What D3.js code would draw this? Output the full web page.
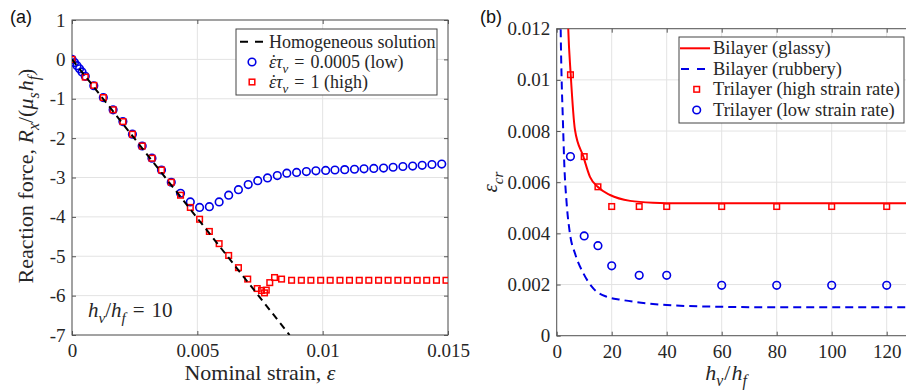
<!DOCTYPE html>
<html><head><meta charset="utf-8">
<script src="https://cdn.jsdelivr.net/npm/d3@7"></script>
<style>
body{margin:0;background:#fff}
svg{display:block}
text{font-family:"Liberation Serif","Times New Roman",serif;fill:#262626}
</style>
</head><body>
<svg id="c" width="906" height="390"></svg>
<script>
// ---------- Panel (a) data ----------
const homX = [0, 0.00868];
const homY = [0, -7.0];

const lowX = [0, 0.0001, 0.0002, 0.0003, 0.0004, 0.00053, 0.00087, 0.00125, 0.00164, 0.00203,
  0.00241, 0.0028, 0.00319, 0.00357, 0.00396, 0.00433, 0.00472, 0.00509, 0.00548, 0.00587,
  0.00625, 0.00664, 0.00703, 0.00741, 0.0078, 0.00819, 0.00857, 0.00896, 0.00935, 0.00973,
  0.01012, 0.01049, 0.01088, 0.01127, 0.01165, 0.01204, 0.01243, 0.01281, 0.0132, 0.01359,
  0.01397, 0.01436, 0.01475];
const lowY = [0, -0.08, -0.16, -0.24, -0.32, -0.43, -0.67, -0.97, -1.28, -1.58,
  -1.90, -2.20, -2.51, -2.81, -3.12, -3.40, -3.62, -3.76, -3.74, -3.62,
  -3.45, -3.31, -3.18, -3.08, -3.01, -2.95, -2.89, -2.87, -2.85, -2.83,
  -2.82, -2.81, -2.80, -2.79, -2.78, -2.77, -2.76, -2.74, -2.72, -2.71,
  -2.69, -2.67, -2.66];

const highX = [0, 0.00053, 0.00087, 0.00125, 0.00164, 0.00203, 0.00241, 0.0028, 0.00319, 0.00357,
  0.00396, 0.00433, 0.00472, 0.00509, 0.00548, 0.00587, 0.00625, 0.00664, 0.00701, 0.00739,
  0.00756, 0.00768, 0.00775, 0.00789, 0.00808, 0.00836, 0.00876, 0.00915, 0.00953, 0.00992,
  0.0103, 0.01069, 0.01107, 0.01146, 0.01184, 0.01223, 0.01261, 0.013, 0.01338, 0.01377,
  0.01415, 0.01454, 0.01492];
const highY = [0, -0.45, -0.66, -0.97, -1.28, -1.58, -1.90, -2.20, -2.51, -2.81,
  -3.12, -3.45, -3.76, -4.06, -4.37, -4.68, -4.98, -5.29, -5.58, -5.82,
  -5.87, -5.93, -5.86, -5.67, -5.54, -5.58, -5.61, -5.61, -5.61, -5.61,
  -5.61, -5.61, -5.61, -5.61, -5.61, -5.61, -5.61, -5.61, -5.61, -5.61,
  -5.61, -5.61, -5.61];

const aXTicks = [0, 0.005, 0.01, 0.015];
const aXTickLabels = ["0", "0.005", "0.01", "0.015"];
const aYTicks = [1, 0, -1, -2, -3, -4, -5, -6, -7];
const aYTickLabels = ["1", "0", "-1", "-2", "-3", "-4", "-5", "-6", "-7"];

// ---------- Panel (b) data ----------
const glassyX = [3.8, 4.2, 5.1, 6.65, 9.7, 12.1, 14.9, 19.4, 26.7, 35, 45, 60, 80, 100, 130];
const glassyY = [0.0135, 0.012, 0.0102, 0.00804, 0.0070, 0.00621, 0.00582, 0.0055, 0.00527, 0.0052, 0.00518, 0.00518, 0.00518, 0.00518, 0.00518];

const rubberyX = [1.3, 1.45, 1.8, 2.2, 2.8, 3.6, 4.8, 6.7, 9.7, 13.3, 18.2, 23.6, 30, 40, 60, 80, 130];
const rubberyY = [0.0135, 0.012, 0.0100, 0.0086, 0.0066, 0.0052, 0.0040, 0.0032, 0.00244, 0.00185, 0.00152, 0.0014, 0.0013, 0.0012, 0.00113, 0.00111, 0.00111];

const triX = [5, 10, 15, 20, 30, 40, 60, 80, 100, 120];
const triHighY = [0.0102, 0.0070, 0.00582, 0.00505, 0.00505, 0.00505, 0.00505, 0.00505, 0.00505, 0.00505];
const triLowY = [0.0070, 0.0039, 0.00352, 0.00273, 0.00236, 0.00236, 0.00197, 0.00197, 0.00197, 0.00197];

const bXTicks = [0, 20, 40, 60, 80, 100, 120];
const bXTickLabels = ["0", "20", "40", "60", "80", "100", "120"];
const bYTicks = [0, 0.002, 0.004, 0.006, 0.008, 0.01, 0.012];
const bYTickLabels = ["0", "0.002", "0.004", "0.006", "0.008", "0.01", "0.012"];

// ---------- drawing ----------
const svg = d3.select("#c");
const RED = "#ff0000", BLUE = "#0000e6";
const AXC = "#555";
const GRID = "#e3e3e3";
const SP = "\u2004";

function rich(sel, parts, fs) {
  let shifted = false;
  const shift = fs * 0.28;
  parts.forEach(p => {
    const ts = sel.append("tspan").text(p.t);
    if (p.it) ts.attr("font-style", "italic");
    if (p.dx) ts.attr("dx", p.dx);
    if (p.sub) {
      ts.attr("font-size", (fs * 0.72) + "px");
      if (!shifted) { ts.attr("dy", shift); shifted = true; }
    } else if (shifted) {
      ts.attr("dy", -shift); shifted = false;
    }
  });
}

function dotOver(parent, textSel, ci, fs) {
  const ext = textSel.node().getExtentOfChar(ci);
  parent.append("text").attr("x", ext.x + ext.width / 2 + 1.2)
    .attr("y", +textSel.attr("y")).attr("text-anchor", "middle")
    .attr("font-size", fs + "px").text("\u02D9");
}

function panel(o) {
  const g = svg.append("g");
  const x = d3.scaleLinear().domain(o.xd).range(o.xr);
  const y = d3.scaleLinear().domain(o.yd).range(o.yr);
  const [x0, x1] = o.xr, [y0, y1] = [o.yr[1], o.yr[0]];
  const clipId = o.id + "clip";
  svg.append("clipPath").attr("id", clipId).append("rect")
    .attr("x", x0).attr("y", y0).attr("width", x1 - x0).attr("height", y1 - y0);

  g.append("g").selectAll("line").data(o.xt).join("line")
    .attr("x1", d => x(d)).attr("x2", d => x(d)).attr("y1", y0).attr("y2", y1)
    .attr("stroke", GRID).attr("stroke-width", 1);
  g.append("g").selectAll("line").data(o.yt).join("line")
    .attr("y1", d => y(d)).attr("y2", d => y(d)).attr("x1", x0).attr("x2", x1)
    .attr("stroke", GRID).attr("stroke-width", 1);

  const fmtX = (d, i) => o.xl[i];
  const fmtY = (d, i) => o.yl[i];
  const ax = g.append("g").attr("transform", `translate(0,${y1})`)
    .call(d3.axisBottom(x).tickValues(o.xt).tickFormat(fmtX).tickSize(-4).tickPadding(9));
  const ay = g.append("g").attr("transform", `translate(${x0},0)`)
    .call(d3.axisLeft(y).tickValues(o.yt).tickFormat(fmtY).tickSize(-4).tickPadding(6.5));
  const at = g.append("g").attr("transform", `translate(0,${y0})`)
    .call(d3.axisTop(x).tickValues(o.xt).tickFormat("").tickSize(-4));
  const ar = g.append("g").attr("transform", `translate(${x1},0)`)
    .call(d3.axisRight(y).tickValues(o.yt).tickFormat("").tickSize(-4));
  [ax, ay, at, ar].forEach(a => {
    a.attr("font-family", null).attr("font-size", null);
    a.select(".domain").remove();
    a.selectAll(".tick line").attr("stroke", AXC);
    a.selectAll("text").style("font-family", "'Liberation Serif','Times New Roman',serif")
      .attr("font-size", "19px").attr("fill", "#262626");
  });
  g.append("rect").attr("x", x0).attr("y", y0).attr("width", x1 - x0).attr("height", y1 - y0)
    .attr("fill", "none").attr("stroke", AXC).attr("stroke-width", 1);

  const plot = g.append("g").attr("clip-path", `url(#${clipId})`);
  return { g, x, y, plot };
}

function lineXY(X, Y, x, y, curve) {
  return d3.line().x((d, i) => x(X[i])).y((d, i) => y(Y[i])).curve(curve || d3.curveLinear)(X);
}

// ---------- Panel (a) ----------
const A = panel({ id: "a", xd: [0, 0.015], xr: [72, 448], yd: [-7, 1], yr: [335, 20],
  xt: aXTicks, xl: aXTickLabels, yt: aYTicks, yl: aYTickLabels });

A.plot.append("g").selectAll("circle").data(lowX).join("circle")
  .attr("cx", (d, i) => A.x(lowX[i])).attr("cy", (d, i) => A.y(lowY[i])).attr("r", 3.8)
  .attr("fill", "none").attr("stroke", BLUE).attr("stroke-width", 1.6);
A.plot.append("g").selectAll("rect").data(highX).join("rect")
  .attr("x", (d, i) => A.x(highX[i]) - 2.8).attr("y", (d, i) => A.y(highY[i]) - 2.8)
  .attr("width", 5.6).attr("height", 5.6)
  .attr("fill", "none").attr("stroke", RED).attr("stroke-width", 1.5);
A.plot.append("path").attr("d", lineXY(homX, homY, A.x, A.y))
  .attr("fill", "none").attr("stroke", "#000").attr("stroke-width", 2).attr("stroke-dasharray", "7,5");

{
  const t = A.g.append("text").attr("x", 88).attr("y", 317).attr("font-size", "21px");
  rich(t, [{ t: "h", it: 1 }, { t: "v", it: 1, sub: 1 }, { t: "/" }, { t: "h", it: 1 }, { t: "f", it: 1, sub: 1 }, { t: SP + "=" + SP + "10" }], 21);
}
{
  const t = svg.append("text").attr("text-anchor", "middle").attr("font-size", "22px")
    .attr("transform", "translate(33,176) rotate(-90)");
  rich(t, [{ t: "Reaction force, " }, { t: "R", it: 1 }, { t: "x", it: 1, sub: 1 }, { t: "/(" },
    { t: "μ", it: 1 }, { t: "s", it: 1, sub: 1 }, { t: "h", it: 1, dx: 1 }, { t: "f", it: 1, sub: 1 }, { t: ")" }], 22);
  const t2 = svg.append("text").attr("text-anchor", "middle").attr("font-size", "22px")
    .attr("x", 260).attr("y", 380);
  rich(t2, [{ t: "Nominal strain, " }, { t: "ε", it: 1 }], 22);
}
{
  const lg = svg.append("g");
  lg.append("rect").attr("x", 236).attr("y", 29).attr("width", 201).attr("height", 66)
    .attr("fill", "#fff").attr("stroke", "#444").attr("stroke-width", 1);
  lg.append("line").attr("x1", 240).attr("x2", 263).attr("y1", 41.7).attr("y2", 41.7)
    .attr("stroke", "#000").attr("stroke-width", 2).attr("stroke-dasharray", "8,7");
  lg.append("circle").attr("cx", 252).attr("cy", 62).attr("r", 3.8)
    .attr("fill", "none").attr("stroke", BLUE).attr("stroke-width", 1.6);
  lg.append("rect").attr("x", 249.2).attr("y", 79.2).attr("width", 5.6).attr("height", 5.6)
    .attr("fill", "none").attr("stroke", RED).attr("stroke-width", 1.5);
  const fs = 18;
  lg.append("text").attr("x", 269).attr("y", 47.5).attr("font-size", fs + "px").text("Homogeneous solution");
  const t1 = lg.append("text").attr("x", 269).attr("y", 68).attr("font-size", fs + "px");
  rich(t1, [{ t: "ε", it: 1 }, { t: "τ", it: 1 }, { t: "v", it: 1, sub: 1 }, { t: SP + "=" + SP + "0.0005 (low)" }], fs);
  dotOver(lg, t1, 0, fs);
  const t2 = lg.append("text").attr("x", 269).attr("y", 88).attr("font-size", fs + "px");
  rich(t2, [{ t: "ε", it: 1 }, { t: "τ", it: 1 }, { t: "v", it: 1, sub: 1 }, { t: SP + "=" + SP + "1 (high)" }], fs);
  dotOver(lg, t2, 0, fs);
}

// ---------- Panel (b) ----------
const B = panel({ id: "b", xd: [0, 130], xr: [556.7, 914.2], yd: [0, 0.012], yr: [335.7, 28.7],
  xt: bXTicks, xl: bXTickLabels, yt: bYTicks, yl: bYTickLabels });

B.plot.append("path").attr("d", lineXY(glassyX, glassyY, B.x, B.y, d3.curveMonotoneX))
  .attr("fill", "none").attr("stroke", RED).attr("stroke-width", 2);
B.plot.append("path").attr("d", lineXY(rubberyX, rubberyY, B.x, B.y, d3.curveMonotoneX))
  .attr("fill", "none").attr("stroke", BLUE).attr("stroke-width", 2).attr("stroke-dasharray", "8,5");
B.plot.append("g").selectAll("rect").data(triX).join("rect")
  .attr("x", (d, i) => B.x(triX[i]) - 2.8).attr("y", (d, i) => B.y(triHighY[i]) - 2.8)
  .attr("width", 5.6).attr("height", 5.6)
  .attr("fill", "none").attr("stroke", RED).attr("stroke-width", 1.5);
B.plot.append("g").selectAll("circle").data(triX).join("circle")
  .attr("cx", (d, i) => B.x(triX[i])).attr("cy", (d, i) => B.y(triLowY[i])).attr("r", 3.8)
  .attr("fill", "none").attr("stroke", BLUE).attr("stroke-width", 1.6);

{
  const t = svg.append("text").attr("text-anchor", "middle").attr("font-size", "21px")
    .attr("transform", "translate(497,182) rotate(-90)");
  rich(t, [{ t: "ε", it: 1 }, { t: "cr", it: 1, sub: 1 }], 21);
  const t2 = svg.append("text").attr("text-anchor", "middle").attr("font-size", "22px")
    .attr("x", 726).attr("y", 380);
  rich(t2, [{ t: "h", it: 1 }, { t: "v", it: 1, sub: 1 }, { t: "/", dx: 1 }, { t: "h", it: 1, dx: 1 }, { t: "f", it: 1, sub: 1 }], 22);
}
{
  const lg = svg.append("g");
  lg.append("rect").attr("x", 679).attr("y", 37).attr("width", 225).attr("height", 86)
    .attr("fill", "#fff").attr("stroke", "#444").attr("stroke-width", 1);
  const rows = [48.3, 69, 89.3, 110];
  lg.append("line").attr("x1", 680).attr("x2", 710).attr("y1", rows[0]).attr("y2", rows[0])
    .attr("stroke", RED).attr("stroke-width", 2);
  lg.append("line").attr("x1", 681).attr("x2", 705).attr("y1", rows[1]).attr("y2", rows[1])
    .attr("stroke", BLUE).attr("stroke-width", 2).attr("stroke-dasharray", "8,8");
  lg.append("rect").attr("x", 693.9).attr("y", rows[2] - 2.8).attr("width", 5.6).attr("height", 5.6)
    .attr("fill", "none").attr("stroke", RED).attr("stroke-width", 1.5);
  lg.append("circle").attr("cx", 696.7).attr("cy", rows[3]).attr("r", 3.8)
    .attr("fill", "none").attr("stroke", BLUE).attr("stroke-width", 1.6);
  const labels = ["Bilayer (glassy)", "Bilayer (rubbery)", "Trilayer (high strain rate)", "Trilayer (low strain rate)"];
  lg.selectAll("text.l").data(labels).join("text").attr("class", "l")
    .attr("x", 713).attr("y", (d, i) => rows[i] + 6).attr("font-size", "18.5px").text(d => d);
}

svg.append("text").attr("x", 10).attr("y", 23).attr("font-size", "18px")
  .style("font-family", "'Liberation Sans',Arial,sans-serif").style("fill", "#111").text("(a)");
svg.append("text").attr("x", 480).attr("y", 23).attr("font-size", "18px")
  .style("font-family", "'Liberation Sans',Arial,sans-serif").style("fill", "#111").text("(b)");
</script>
</body></html>
